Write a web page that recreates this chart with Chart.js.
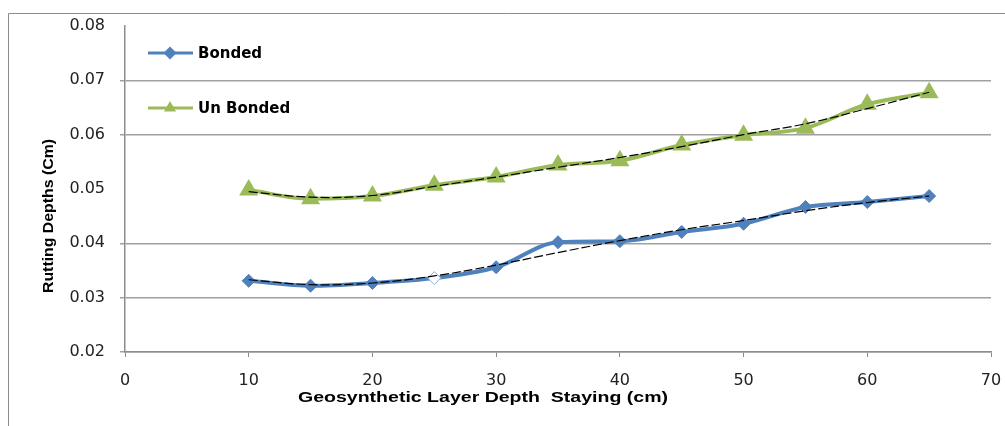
<!DOCTYPE html>
<html>
<head>
<meta charset="utf-8">
<script src="https://cdn.jsdelivr.net/npm/chart.js@4.4.1/dist/chart.umd.min.js"></script>
<style>
  html, body { margin: 0; padding: 0; background: #fff; }
  #wrap { width: 1005px; height: 426px; }
</style>
</head>
<body>
<div id="wrap"><canvas id="chart" width="1005" height="426"></canvas></div>
<script>
const depths = [10, 15, 20, 25, 30, 35, 40, 45, 50, 55, 60, 65];
const bonded = [0.0331, 0.0322, 0.0327, 0.0336, 0.0356, 0.0402, 0.0404, 0.0421, 0.0436, 0.0467, 0.0476, 0.0487];
const unBonded = [0.0498, 0.0482, 0.0487, 0.0507, 0.0522, 0.0544, 0.0552, 0.0581, 0.0599, 0.0612, 0.0656, 0.0677];
const bondedTrend = [0.0333, 0.0324, 0.0327, 0.0340, 0.0360, 0.0383, 0.0405, 0.0425, 0.0442, 0.0460, 0.0475, 0.0487];
const unBondedTrend = [0.0495, 0.0485, 0.0488, 0.0505, 0.0522, 0.0540, 0.0558, 0.0578, 0.0600, 0.0620, 0.0648, 0.0678];
const hiddenGrid = [0.05, 0.08];

const blue = "#4f81bd";
const green = "#9bbb59";

const pts = (ys) => depths.map((x, i) => ({ x: x, y: ys[i] }));

// frame, legend and axis titles drawn over the chart
const extras = {
    id: "extras",
    beforeDraw(chart) {
        const ctx = chart.ctx;
        ctx.save();
        ctx.strokeStyle = "#8c8c8c";
        ctx.lineWidth = 1;
        ctx.beginPath();
        ctx.moveTo(8.5, 430);
        ctx.lineTo(8.5, 13.5);
        ctx.lineTo(1010, 13.5);
        ctx.stroke();
        ctx.restore();
    },
    afterDraw(chart) {
        const ctx = chart.ctx;
        ctx.save();
        // legend
        const items = [
            { text: "Bonded", color: blue, style: "rectRot", r: 6.5, y: 53 },
            { text: "Un Bonded", color: green, style: "triangle", r: 7, y: 108 },
        ];
        items.forEach((it) => {
            ctx.strokeStyle = it.color;
            ctx.lineWidth = 3;
            ctx.beginPath();
            ctx.moveTo(148, it.y);
            ctx.lineTo(193, it.y);
            ctx.stroke();
            ctx.fillStyle = it.color;
            Chart.helpers.drawPoint(ctx, { pointStyle: it.style, radius: it.r, borderWidth: 0 }, 170, it.y);
            ctx.fillStyle = "#000";
            ctx.font = "bold 15px 'DejaVu Sans'";
            ctx.textBaseline = "middle";
            ctx.textAlign = "left";
            ctx.fillText(it.text, 198, it.y + 1);
        });
        // x axis title
        ctx.font = "bold 15px 'Liberation Sans'";
        const xt = "Geosynthetic Layer Depth  Staying (cm)";
        const xw = ctx.measureText(xt).width;
        ctx.translate(483, 398);
        ctx.scale(370 / xw, 1);
        ctx.textAlign = "center";
        ctx.textBaseline = "middle";
        ctx.fillText(xt, 0, 0);
        ctx.setTransform(1, 0, 0, 1, 0, 0);
        // y axis title
        ctx.font = "bold 15px 'Liberation Sans'";
        const yt = "Rutting Depths (Cm)";
        const yw = ctx.measureText(yt).width;
        ctx.translate(49, 216);
        ctx.rotate(-Math.PI / 2);
        ctx.scale(154 / yw, 1);
        ctx.fillText(yt, 0, 0);
        ctx.restore();
    },
};

new Chart(document.getElementById("chart").getContext("2d"), {
    type: "line",
    data: {
        datasets: [
            {
                label: "Bonded trend",
                data: pts(bondedTrend),
                borderColor: "#000",
                borderWidth: 1.2,
                borderDash: [9, 3],
                pointRadius: 0,
                tension: 0.4,
                order: 0,
            },
            {
                label: "Un Bonded trend",
                data: pts(unBondedTrend),
                borderColor: "#000",
                borderWidth: 1.2,
                borderDash: [9, 3],
                pointRadius: 0,
                tension: 0.4,
                order: 0,
            },
            {
                label: "Bonded",
                data: pts(bonded),
                borderColor: blue,
                borderWidth: 4,
                pointStyle: "rectRot",
                pointRadius: 6.5,
                pointBackgroundColor: depths.map((d) => (d === 25 ? "#fff" : blue)),
                pointBorderColor: depths.map((d) => (d === 25 ? "#8fb0d8" : blue)),
                pointBorderWidth: 1,
                cubicInterpolationMode: "monotone",
                order: 1,
            },
            {
                label: "Un Bonded",
                data: pts(unBonded),
                borderColor: green,
                backgroundColor: green,
                borderWidth: 4,
                pointStyle: "triangle",
                pointRadius: 7,
                pointBackgroundColor: green,
                pointBorderColor: green,
                cubicInterpolationMode: "monotone",
                order: 1,
            },
        ],
    },
    options: {
        responsive: false,
        animation: false,
        layout: { padding: { top: 26, right: 14, left: 0, bottom: 0 } },
        plugins: {
            legend: { display: false },
            tooltip: { enabled: false },
        },
        scales: {
            x: {
                type: "linear",
                min: 0,
                max: 70,
                ticks: {
                    stepSize: 10,
                    padding: 14,
                    color: "#222",
                    font: { family: "DejaVu Sans", size: 16 },
                },
                grid: { drawOnChartArea: false, drawTicks: true, tickLength: 5, color: "#8c8c8c" },
                border: { color: "#8c8c8c", width: 1.5 },
                afterFit: (s) => {
                    s.height = 74;
                    s.paddingLeft = 0;
                    s.paddingRight = 0;
                },
            },
            y: {
                min: 0.02,
                max: 0.08,
                ticks: {
                    stepSize: 0.01,
                    padding: 15,
                    color: "#222",
                    font: { family: "DejaVu Sans", size: 16 },
                    callback: (v) => v.toFixed(2),
                },
                grid: {
                    tickLength: 5,
                    lineWidth: 1.5,
                    color: (c) =>
                        c.tick && hiddenGrid.some((h) => Math.abs(c.tick.value - h) < 1e-6)
                            ? "rgba(0,0,0,0)"
                            : "#a0a0a0",
                },
                border: { color: "#8c8c8c", width: 1.5 },
                afterFit: (s) => {
                    s.width = 125;
                    s.paddingTop = 0;
                    s.paddingBottom = 0;
                },
            },
        },
    },
    plugins: [extras],
});
</script>
</body>
</html>
